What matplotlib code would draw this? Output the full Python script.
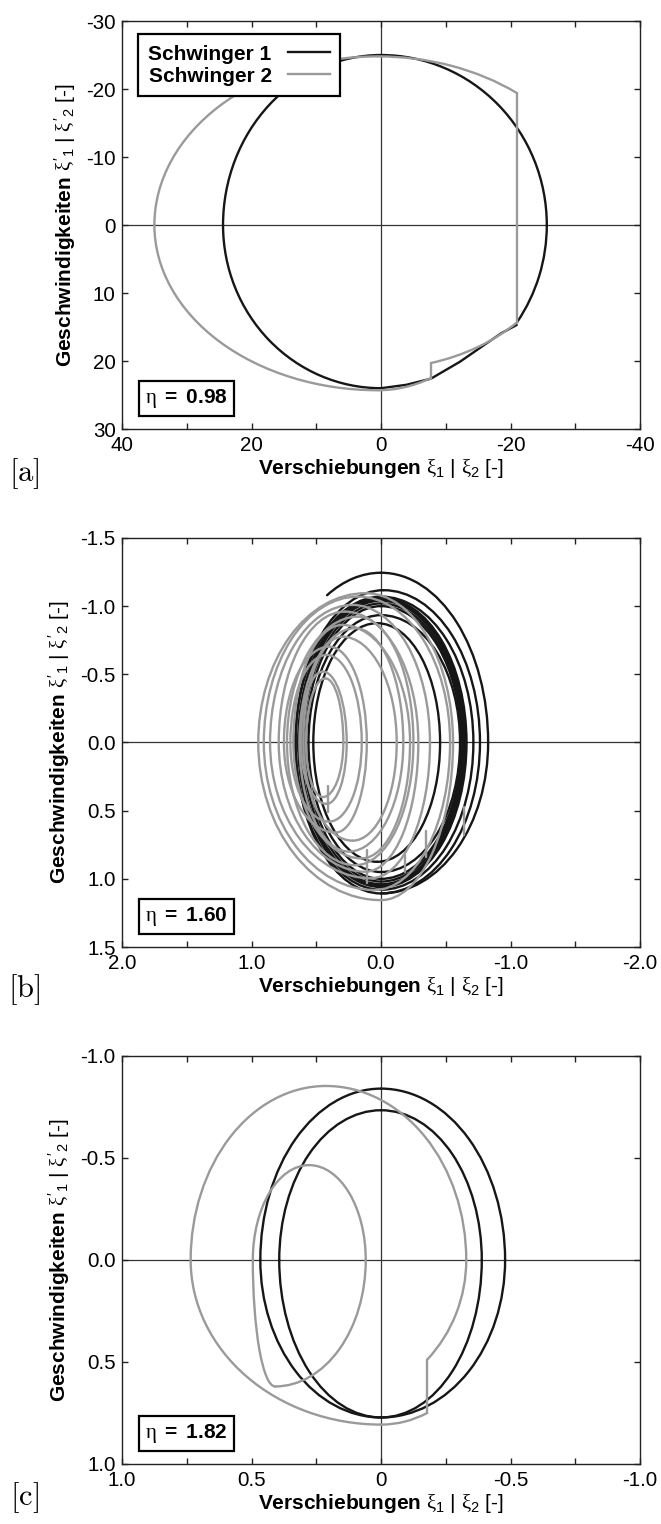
import numpy as np
import matplotlib
matplotlib.use("Agg")
import matplotlib.pyplot as plt
from matplotlib.patches import Arc

plt.rcParams.update({
    "font.family": ["Liberation Sans", "DejaVu Sans"],
    "font.size": 14,
    "mathtext.fontset": "custom",
    "mathtext.rm": "Liberation Sans",
    "mathtext.bf": "Liberation Sans:bold",
    "mathtext.it": "Liberation Serif",
    "axes.unicode_minus": False,
})

C1 = "#161616"   # Schwinger 1
C2 = "#9a9a9a"   # Schwinger 2
LW = 1.7

# ---------------------------------------------------------------- panel a
# elliptic pieces: (centre x, centre y, semi-axis x, semi-axis y, angle from, angle to)
a_arcs_1 = [
    (0.0, 0.0, 24.4, 25.0, 270.0, 360.0),
    (0.0, 0.0, 24.4, 24.0, 0.0, 90.0),
    (0.0, 0.0, 25.6, 25.0, 180.0, 270.0),
    (0.0, 0.0, 25.6, 25.0, 145.7, 180.0),
]
a_path_1_x = [-20.95, -18.6, -16.3, -12.2, -7.7, -3.9, 0.0]
a_path_1_y = [14.7, 15.9, 17.4, 20.1, 22.6, 23.5, 24.0]

a_arcs_2 = [
    (0.5, 0.0, 34.5, 24.8, 270.0, 360.0),
    (0.5, 0.0, 34.5, 24.3, 0.0, 90.0),
    (0.5, 0.0, 34.5, 24.8, 222.15, 270.0),
    (0.5, 0.0, 29.2, 21.15, 112.05, 146.5),
    (0.5, 0.0, 21.7, 24.3, 90.0, 109.94),
]
# velocity jumps: (position, velocity before, velocity after)
a_jumps_2 = [(-20.95, -19.4, 14.2), (-7.7, 20.25, 22.6)]

# ---------------------------------------------------------------- panel b
# closed loops: right extreme (+x), left extreme (-x), top, bottom,
# x of top point, x of bottom point
b1_xpos = [0.523, 0.56, 0.58, 0.60, 0.62, 0.63, 0.64, 0.66, 0.66]
b1_xneg = [-0.456, -0.61, -0.62, -0.63, -0.64, -0.65, -0.66, -0.713, -0.764]
b1_ytop = [-0.875, -0.934, -1.00, -1.02, -1.04, -1.05, -1.06, -1.07, -1.117]
b1_ybot = [0.875, 0.95, 1.00, 1.02, 1.04, 1.05, 1.06, 1.08, 1.107]
b1_ctop = [0.03, 0.0, 0.0, 0.0, 0.0, 0.0, 0.0, 0.0, -0.02]
b1_cbot = [0.03, 0.0, 0.0, 0.0, 0.0, 0.0, 0.0, 0.0, 0.0]
b_arcs_1 = [
    (0.0, 0.0, 0.838, 1.245, 270.0, 291.1),
    (0.0, 0.0, 0.827, 1.245, 180.0, 270.0),
    (0.0, 0.0, 0.827, 1.107, 90.0, 180.0),
]

b2_xpos = [0.948, 0.905, 0.857, 0.79, 0.726, 0.677, 0.63, 0.60, 0.75, 0.70, 0.62, 0.58]
b2_xneg = [-0.556, -0.533, -0.378, -0.288, -0.25, -0.224, -0.172, -0.121, 0.11, 0.149, 0.265, 0.291]
b2_ytop = [-1.095, -1.07, -1.009, -0.96, -0.923, -0.862, -0.838, -0.776, -0.703, -0.642, -0.52, -0.47]
b2_ybot = [1.156, 1.082, 0.996, 0.948, 0.90, 0.85, 0.80, 0.72, 0.66, 0.58, 0.45, 0.40]
b2_ctop = [0.12, 0.18, 0.22, 0.28, 0.18, 0.30, 0.20, 0.30, 0.40, 0.42, 0.45, 0.43]
b2_cbot = [0.0, 0.05, 0.08, 0.12, 0.20, 0.15, 0.25, 0.22, 0.35, 0.40, 0.42, 0.45]
b_jumps_2 = [(0.41, 0.32, 0.51), (0.11, 0.79, 1.03), (-0.185, 0.825, 0.948),
             (-0.35, 0.65, 0.84), (-0.64, 0.47, 0.68)]

# ---------------------------------------------------------------- panel c
c1_xpos = [0.466, 0.393]
c1_xneg = [-0.479, -0.389]
c1_ytop = [-0.840, -0.734]
c1_ybot = [0.772, 0.772]
c1_ctop = [0.0, 0.0]
c1_cbot = [0.0, 0.0]

c2_xpos = [0.495]
c2_xneg = [0.059]
c2_ytop = [-0.465]
c2_ybot = [0.62]
c2_ctop = [0.278]
c2_cbot = [0.409]
c_arcs_2 = [
    (0.213, 0.0, 0.522, 0.853, 270.0, 360.0),
    (0.213, 0.0, 0.542, 0.853, 180.0, 270.0),
    (0.0, 0.0, 0.735, 0.807, 0.0, 90.0),
    (0.213, 0.0, 0.542, 0.706, 128.6, 180.0),
    (0.0, 0.0, 0.483, 0.807, 90.0, 103.35),
]
c_jumps_2 = [(-0.178, 0.489, 0.75)]

# axis ticks
a_xmaj, a_xlab, a_xmin = [40, 20, 0, -20, -40], ["40", "20", "0", "-20", "-40"], [30, 10, -10, -30]
a_ymaj, a_ylab = [-30, -20, -10, 0, 10, 20, 30], ["-30", "-20", "-10", "0", "10", "20", "30"]
b_xmaj, b_xlab, b_xmin = [2, 1, 0, -1, -2], ["2.0", "1.0", "0.0", "-1.0", "-2.0"], [1.5, 0.5, -0.5, -1.5]
b_ymaj, b_ylab = [-1.5, -1, -0.5, 0, 0.5, 1, 1.5], ["-1.5", "-1.0", "-0.5", "0.0", "0.5", "1.0", "1.5"]
c_xmaj, c_xlab, c_xmin = [1, 0.5, 0, -0.5, -1], ["1.0", "0.5", "0", "-0.5", "-1.0"], [0.75, 0.25, -0.25, -0.75]
c_ymaj, c_ylab = [-1, -0.5, 0, 0.5, 1], ["-1.0", "-0.5", "0.0", "0.5", "1.0"]

XLABEL = r"$\mathbf{Verschiebungen}$ $\xi_1$ | $\xi_2$ [-]"
YLABEL = r"$\mathbf{Geschwindigkeiten}$ $\xi'_1$ | $\xi'_2$ [-]"


def draw_arc(ax, arc, color):
    cx, cy, rx, ry, t1, t2 = arc
    ax.add_patch(Arc((cx, cy), 2 * rx, 2 * ry, theta1=t1, theta2=t2,
                     edgecolor=color, lw=LW, capstyle="round", zorder=3))


def draw_loops(ax, xpos, xneg, ytop, ybot, ctop, cbot, color):
    for xp, xn, yt, yb, ct, cb in zip(xpos, xneg, ytop, ybot, ctop, cbot):
        draw_arc(ax, (ct, 0.0, xp - ct, -yt, 270.0, 360.0), color)
        draw_arc(ax, (ct, 0.0, ct - xn, -yt, 180.0, 270.0), color)
        draw_arc(ax, (cb, 0.0, xp - cb, yb, 0.0, 90.0), color)
        draw_arc(ax, (cb, 0.0, cb - xn, yb, 90.0, 180.0), color)


def draw_jumps(ax, jumps, color):
    for x, y0, y1 in jumps:
        ax.plot([x, x], [y0, y1], color=color, lw=LW, zorder=3,
                solid_capstyle="round")


def setup(ax, lim_x, lim_y, xmaj, xlab, xmin, ymaj, ylab, eta):
    ax.set_xlim(lim_x, -lim_x)
    ax.set_ylim(lim_y, -lim_y)
    ax.set_xticks(xmaj)
    ax.set_xticklabels(xlab)
    ax.set_xticks(xmin, minor=True)
    ax.set_yticks(ymaj)
    ax.set_yticklabels(ylab)
    ax.tick_params(which="both", direction="in", top=True, right=True,
                   length=4, width=1.0, labelsize=14.8, color="#222222")
    ax.tick_params(axis="x", pad=5)
    ax.tick_params(axis="y", pad=4.5)
    for s in ax.spines.values():
        s.set_linewidth(1.0)
        s.set_color("#222222")
    ax.axhline(0, color="#333333", lw=0.9, zorder=1)
    ax.axvline(0, color="#333333", lw=0.9, zorder=1)
    ax.set_xlabel(XLABEL, fontsize=15, labelpad=1.5)
    ax.set_ylabel(YLABEL, fontsize=15, labelpad=6)
    ax.text(0.045, 0.047, r"$\eta$ $\mathbf{=\ " + eta + "}$", transform=ax.transAxes,
            fontsize=15, ha="left", va="bottom", zorder=5,
            bbox=dict(boxstyle="square,pad=0.3", fc="white", ec="black", lw=1.6))


fig = plt.figure(figsize=(6.61, 15.24), dpi=100)
axa = fig.add_axes([0.1846, 0.7185, 0.7837, 0.2677])
axb = fig.add_axes([0.1846, 0.3786, 0.7837, 0.2684])
axc = fig.add_axes([0.1846, 0.0394, 0.7837, 0.2677])

setup(axa, 40, 30, a_xmaj, a_xlab, a_xmin, a_ymaj, a_ylab, "0.98")
setup(axb, 2.0, 1.5, b_xmaj, b_xlab, b_xmin, b_ymaj, b_ylab, "1.60")
setup(axc, 1.0, 1.0, c_xmaj, c_xlab, c_xmin, c_ymaj, c_ylab, "1.82")

# panel a
for arc in a_arcs_1:
    draw_arc(axa, arc, C1)
axa.plot(a_path_1_x, a_path_1_y, color=C1, lw=LW, zorder=3, solid_capstyle="round")
for arc in a_arcs_2:
    draw_arc(axa, arc, C2)
draw_jumps(axa, a_jumps_2, C2)
h1, = axa.plot([], [], color=C1, lw=LW, label="Schwinger 1")
h2, = axa.plot([], [], color=C2, lw=LW, label="Schwinger 2")
leg = axa.legend(handles=[h1, h2], loc="upper left", bbox_to_anchor=(0.031, 0.968),
                 borderaxespad=0, markerfirst=False, fancybox=False,
                 edgecolor="black", framealpha=1, handlelength=2.0,
                 handletextpad=0.8, labelspacing=0.15, borderpad=0.5,
                 prop={"weight": "bold", "size": 15})
leg.get_frame().set_linewidth(1.6)
leg.set_zorder(6)

# panel b
draw_loops(axb, b1_xpos, b1_xneg, b1_ytop, b1_ybot, b1_ctop, b1_cbot, C1)
for arc in b_arcs_1:
    draw_arc(axb, arc, C1)
draw_loops(axb, b2_xpos, b2_xneg, b2_ytop, b2_ybot, b2_ctop, b2_cbot, C2)
draw_jumps(axb, b_jumps_2, C2)

# panel c
draw_loops(axc, c1_xpos, c1_xneg, c1_ytop, c1_ybot, c1_ctop, c1_cbot, C1)
draw_loops(axc, c2_xpos, c2_xneg, c2_ytop, c2_ybot, c2_ctop, c2_cbot, C2)
for arc in c_arcs_2:
    draw_arc(axc, arc, C2)
draw_jumps(axc, c_jumps_2, C2)

for lab, yc in (("[a]", 474), ("[b]", 990), ("[c]", 1498)):
    fig.text(24 / 661, 1 - yc / 1524, r"$\mathrm{" + lab + "}$", fontsize=22,
             ha="center", va="center", math_fontfamily="cm")

fig.savefig("out.png", dpi=100)
